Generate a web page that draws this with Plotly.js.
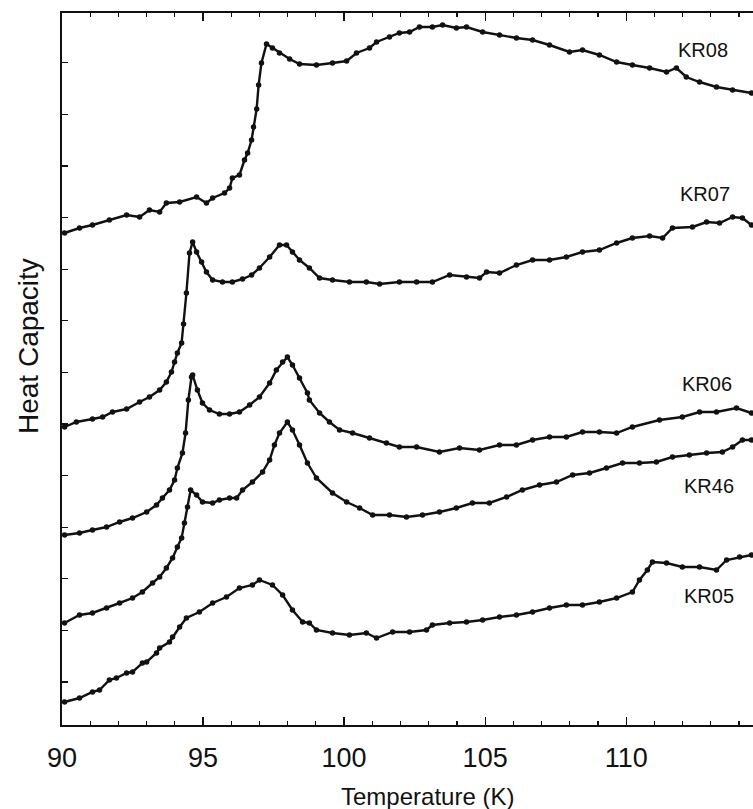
<!DOCTYPE html>
<html>
<head>
<meta charset="utf-8">
<script src="https://cdn.plot.ly/plotly-3.0.1.min.js"></script>
<style>html,body{margin:0;padding:0;background:#fff;}#chart{width:753px;height:809px;}</style>
</head>
<body>
<div id="chart"></div>
<script>
// Temperature (K) and heat capacity (arbitrary units, offset curves)
const kr08_T = [90.09,90.62,91.08,91.68,92.29,92.75,93.10,93.46,93.70,94.17,94.77,95.12,95.34,95.76,95.94,96.04,96.29,96.47,96.58,96.72,96.79,96.90,96.97,97.07,97.25,97.46,97.71,98.07,98.42,99.02,99.59,100.09,100.44,100.90,101.15,101.61,101.96,102.32,102.67,103.13,103.49,103.98,104.34,104.91,105.51,106.11,106.68,107.28,107.99,108.45,109.05,109.66,110.22,110.83,111.43,111.78,112.13,112.60,113.20,113.77,114.44];
const kr08_C = [492,497,500,505,510,508,515,513,522,523,528,522,527,532,537,547,550,565,572,585,598,616,640,662,681,677,672,666,661,660,662,664,672,677,683,688,692,693,698,698,700,697,698,693,690,687,685,680,673,675,670,663,660,657,653,657,648,643,638,635,632];

const kr07_T = [90.09,90.51,91.08,91.44,91.79,92.29,92.75,93.10,93.46,93.70,93.88,93.99,94.09,94.24,94.31,94.41,94.52,94.63,94.77,94.95,95.12,95.34,95.69,96.04,96.40,96.72,97.00,97.36,97.71,97.96,98.17,98.42,98.77,99.13,99.59,100.19,100.79,101.26,101.96,102.57,103.13,103.74,104.34,104.80,105.05,105.51,106.11,106.68,107.28,107.88,108.45,109.05,109.66,110.22,110.83,111.29,111.64,112.35,112.85,113.31,113.77,114.12,114.44];
const kr07_C = [298,303,306,308,313,316,323,328,335,343,353,363,372,382,401,432,472,483,473,463,453,445,443,443,446,450,457,468,480,480,473,465,457,447,445,443,443,441,443,443,443,450,448,447,453,452,460,465,465,468,473,475,482,487,489,487,497,498,503,502,508,507,500];

const kr06_T = [90.09,90.62,91.08,91.58,92.04,92.50,93.00,93.35,93.56,93.81,93.99,94.09,94.27,94.38,94.48,94.59,94.63,94.80,94.98,95.23,95.58,95.94,96.29,96.65,97.00,97.36,97.60,97.82,97.99,98.17,98.42,98.70,98.77,99.13,99.48,99.84,100.30,100.90,101.50,101.96,102.57,103.38,104.09,104.80,105.51,106.11,106.68,107.28,107.88,108.45,109.05,109.66,110.22,111.18,111.99,112.60,113.20,113.91,114.44];
const kr06_C = [190,192,195,198,203,207,213,220,227,235,245,257,272,292,325,348,350,335,322,315,311,311,313,320,328,342,355,363,368,360,347,332,325,312,303,295,292,287,282,278,278,273,277,275,280,280,285,288,288,293,293,292,298,305,308,313,313,317,312];

const kr46_T = [90.09,90.62,91.08,91.58,92.04,92.50,92.85,93.21,93.46,93.70,93.92,94.09,94.24,94.34,94.45,94.56,94.77,94.98,95.34,95.58,95.94,96.19,96.40,96.75,97.11,97.36,97.53,97.71,97.99,98.17,98.42,98.70,99.02,99.59,100.09,100.55,101.01,101.61,102.21,102.78,103.38,103.98,104.55,105.15,105.76,106.32,106.93,107.53,108.10,108.70,109.30,109.87,110.47,111.07,111.64,112.24,112.85,113.41,113.77,114.12,114.44];
const kr46_C = [102,110,112,117,122,127,133,142,148,157,167,178,187,202,218,235,230,223,222,225,227,227,235,243,253,265,280,292,303,295,280,262,247,232,223,217,210,210,208,210,213,217,222,222,228,235,240,243,250,252,257,262,262,263,268,270,272,273,278,285,285];

const kr05_T = [90.09,90.62,91.08,91.33,91.68,91.93,92.29,92.50,92.85,93.00,93.35,93.46,93.81,93.92,94.17,94.41,94.87,95.34,95.83,96.29,96.75,97.00,97.46,97.82,98.17,98.53,98.77,99.02,99.59,100.19,100.79,101.15,101.72,102.32,102.92,103.13,103.74,104.34,104.91,105.51,106.11,106.68,107.28,107.88,108.45,109.05,109.66,110.22,110.47,110.75,110.93,111.43,111.99,112.60,113.20,113.56,114.02,114.44];
const kr05_C = [23,27,33,35,45,47,52,53,62,63,72,77,83,88,98,107,113,122,128,137,140,145,140,130,115,103,102,95,92,90,92,87,93,93,95,100,102,103,105,108,110,113,117,120,120,123,127,133,145,155,163,162,158,158,155,165,168,170];

const seriesNames = ['KR08','KR07','KR06','KR46','KR05'];
const xTickVals = [90,95,100,105,110];
const xTickText = ['90','95','100','105','110'];

const allT = [kr08_T, kr07_T, kr06_T, kr46_T, kr05_T];
const allC = [kr08_C, kr07_C, kr06_C, kr46_C, kr05_C];

const traces = seriesNames.map((n,i) => ({
  x: allT[i], y: allC[i], name: n, type: 'scatter', mode: 'lines+markers',
  line: {color: '#111', width: 2.4},
  marker: {color: '#111', size: 5.5, symbol: 'circle'},
  showlegend: false, hoverinfo: 'skip'
}));

// label placement (layout only)
const labelPos = [[112.74,675],[112.81,531],[112.88,341],[112.95,239],[112.92,129]];
const annotations = seriesNames.map((n,i) => ({
  x: labelPos[i][0], y: labelPos[i][1], xref: 'x', yref: 'y', text: n,
  showarrow: false, xanchor: 'center', yanchor: 'middle',
  font: {family: 'Liberation Sans, Arial, sans-serif', size: 20, color: '#111'}
}));
annotations.push({
  text: 'Temperature (K)', xref: 'x', yref: 'paper', x: 102.94, y: 0,
  yanchor: 'middle', xanchor: 'center', yshift: -71, showarrow: false,
  font: {family: 'Liberation Sans, Arial, sans-serif', size: 24, color: '#111'}
});
annotations.push({
  text: 'Heat Capacity', xref: 'paper', yref: 'y', x: 0, y: 725-346,
  xanchor: 'center', yanchor: 'middle', xshift: -34, textangle: -90, showarrow: false,
  font: {family: 'Liberation Sans, Arial, sans-serif', size: 28, color: '#111'}
});

const layout = {
  width: 753, height: 809,
  margin: {l: 62, r: 0, t: 13, b: 84, pad: 0},
  paper_bgcolor: '#fff', plot_bgcolor: '#fff',
  font: {family: 'Liberation Sans, Arial, sans-serif', color: '#111'},
  xaxis: {
    range: [90, 114.495], tickmode: 'array', tickvals: xTickVals, ticktext: xTickText,
    ticks: 'inside', ticklen: 8, tickwidth: 1.3, tickcolor: '#111',
    minor: {dtick: 1, tick0: 90, ticks: 'inside', ticklen: 4, tickwidth: 1.2, tickcolor: '#111'},
    showline: true, linecolor: '#111', linewidth: 1.8, mirror: 'ticks',
    showgrid: false, zeroline: false,
    tickfont: {size: 27, color: '#111', family: 'Liberation Sans, Arial, sans-serif'},
    ticklabelstandoff: 8
  },
  yaxis: {
    range: [0, 712], tickmode: 'linear', tick0: 43, dtick: 51.6,
    ticks: 'inside', ticklen: 6, tickwidth: 1.3, tickcolor: '#111',
    showticklabels: false, showline: true, linecolor: '#111', linewidth: 1.8,
    mirror: false, showgrid: false, zeroline: false
  },
  annotations: annotations
};

Plotly.newPlot('chart', traces, layout, {displayModeBar: false, staticPlot: true});
</script>
</body>
</html>
